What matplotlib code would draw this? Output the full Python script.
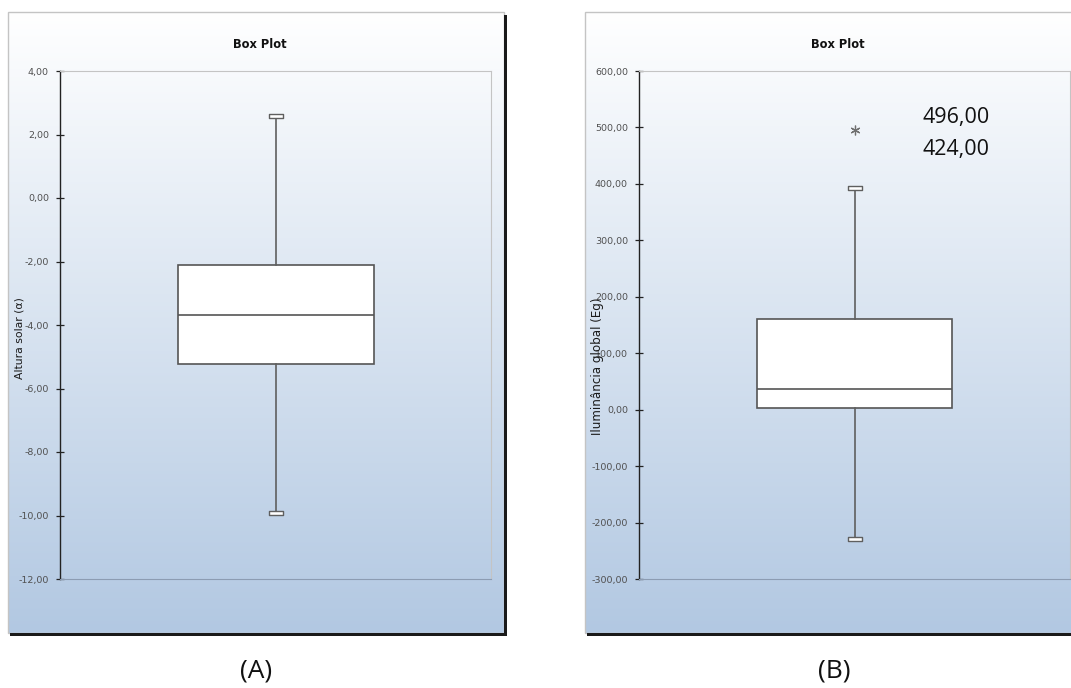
import numpy as np
import matplotlib
matplotlib.use("Agg")
import matplotlib.pyplot as plt
from matplotlib.patches import Rectangle
from matplotlib.path import Path
from matplotlib.ticker import FuncFormatter

# ---- data ----
panel_labels = ["(A)", "(B)"]
y_labels = ["Altura solar (\u03b1)", "Ilumin\u00e2ncia global (Eg)"]
chart_title = "Box Plot"

a_whislo, a_q1, a_med, a_q3, a_whishi = -9.92, -5.22, -3.69, -2.11, 2.58
a_fliers = []
a_ylim = (-12, 4)
a_ticks = [-12, -10, -8, -6, -4, -2, 0, 2, 4]

b_whislo, b_q1, b_med, b_q3, b_whishi = -229.0, 3.0, 37.0, 160.0, 393.0
b_fliers = [496.0]
b_ylim = (-300, 600)
b_ticks = [-300, -200, -100, 0, 100, 200, 300, 400, 500, 600]
b_annotations = ["496,00", "424,00"]

W, H = 1071, 688
fig = plt.figure(figsize=(W / 100, H / 100), dpi=100)
fig.patch.set_facecolor("white")


def fx(x):
    return x / W


def fy(y):
    return 1 - y / H


def rect_axes(x0, y0, x1, y1, **kw):
    return fig.add_axes([fx(x0), fy(y1), fx(x1 - x0), (y1 - y0) / H], **kw)


top_col = np.array([255, 255, 255]) / 255
bot_col = np.array([178, 200, 226]) / 255


def frame(x0, y0, x1, y1):
    bg = rect_axes(x0, y0, x1, y1, zorder=0)
    t = np.linspace(0, 1, 256)[:, None]
    grad = top_col[None, :] * (1 - t) + bot_col[None, :] * t
    img = np.repeat(grad[:, None, :], 2, axis=1)
    bg.imshow(img, aspect="auto", extent=[0, 1, 0, 1], interpolation="bilinear")
    bg.set_xlim(0, 1)
    bg.set_ylim(0, 1)
    bg.axis("off")
    fig.patches.append(Rectangle((fx(x0), fy(y1)), fx(x1 - x0), (y1 - y0) / H,
                                 transform=fig.transFigure, fill=False,
                                 edgecolor="#c4c4c4", linewidth=1.0, zorder=1))
    fig.patches.append(Rectangle((fx(x1), fy(y1 + 2.5)), fx(2.5), (y1 - y0) / H,
                                 transform=fig.transFigure, facecolor="#1a1a1a",
                                 edgecolor="none", zorder=1))
    fig.patches.append(Rectangle((fx(x0 + 2), fy(y1 + 2.5)), fx(x1 - x0), 2.5 / H,
                                 transform=fig.transFigure, facecolor="#1a1a1a",
                                 edgecolor="none", zorder=1))


fmt = FuncFormatter(lambda v, p: f"{v:.2f}".replace(".", ","))

cap_path = Path([(-1, -0.22), (1, -0.22), (1, 0.22), (-1, 0.22), (-1, -0.22)],
                [Path.MOVETO, Path.LINETO, Path.LINETO, Path.LINETO, Path.CLOSEPOLY])

line_col = "#5f5f5f"


def panel(x0, x1, stats, ylim, ticks, box_w):
    ax = rect_axes(x0, 71, x1, 579, zorder=2)
    ax.patch.set_alpha(0)
    ax.bxp([stats], positions=[0], widths=box_w, showcaps=False, patch_artist=True,
           boxprops=dict(facecolor="white", edgecolor="#555555", linewidth=1.2),
           medianprops=dict(color="#555555", linewidth=1.2),
           whiskerprops=dict(color=line_col, linewidth=1.2),
           flierprops=dict(marker=(6, 2, 0), markersize=7, markeredgecolor="#707070",
                           markerfacecolor="#707070", markeredgewidth=0.9, linestyle="none"))
    ax.plot([0, 0], [stats["whislo"], stats["whishi"]], linestyle="none",
            marker=cap_path, markersize=10, markerfacecolor="white",
            markeredgecolor=line_col, markeredgewidth=1.0, zorder=3)
    ax.set_xlim(-0.5, 0.5)
    ax.set_ylim(*ylim)
    ax.set_yticks(ticks)
    ax.yaxis.set_major_formatter(fmt)
    ax.set_xticks([])
    ax.tick_params(axis="y", direction="inout", length=6, width=0.9, color="#222222",
                   labelsize=6.8, labelcolor="#505050", pad=5)
    ax.spines["left"].set_color("#222222")
    ax.spines["left"].set_linewidth(1.0)
    ax.spines["top"].set_color("#c4c4c4")
    ax.spines["right"].set_color("#c4c4c4")
    ax.spines["bottom"].set_color("#8c9cb2")
    for s in ax.spines.values():
        s.set_zorder(4)
    return ax


frame(8, 12, 504, 633)
frame(585, 12, 1090, 633)

stats_a = dict(whislo=a_whislo, q1=a_q1, med=a_med, q3=a_q3, whishi=a_whishi, fliers=a_fliers)
stats_b = dict(whislo=b_whislo, q1=b_q1, med=b_med, q3=b_q3, whishi=b_whishi, fliers=b_fliers)

ax_a = panel(60, 491, stats_a, a_ylim, a_ticks, 196 / 431)
ax_b = panel(639, 1070, stats_b, b_ylim, b_ticks, 195 / 431)

# titles
for xc in (260, 838):
    fig.text(fx(xc), fy(44), chart_title, ha="center", va="center", fontsize=8.3,
             fontweight="bold", color="#111111", zorder=5)

# y labels
fig.text(fx(20), fy(338), y_labels[0], rotation=90, ha="center", va="center",
         fontsize=7.8, color="#1a1a1a", zorder=5)
fig.text(fx(598), fy(366), y_labels[1], rotation=90, ha="center", va="center",
         fontsize=8.6, color="#1a1a1a", zorder=5)

# annotations
fig.text(fx(956), fy(118), b_annotations[0], ha="center", va="center",
         fontsize=15.5, family="Open Sans", color="#111111", zorder=5)
fig.text(fx(956), fy(150), b_annotations[1], ha="center", va="center",
         fontsize=15.5, family="Open Sans", color="#111111", zorder=5)

# panel labels
fig.text(fx(256), fy(671), panel_labels[0], ha="center", va="center",
         fontsize=19, family="Open Sans", color="#111111")
fig.text(fx(834), fy(671), panel_labels[1], ha="center", va="center",
         fontsize=19, family="Open Sans", color="#111111")

fig.savefig("out.png", dpi=100)
